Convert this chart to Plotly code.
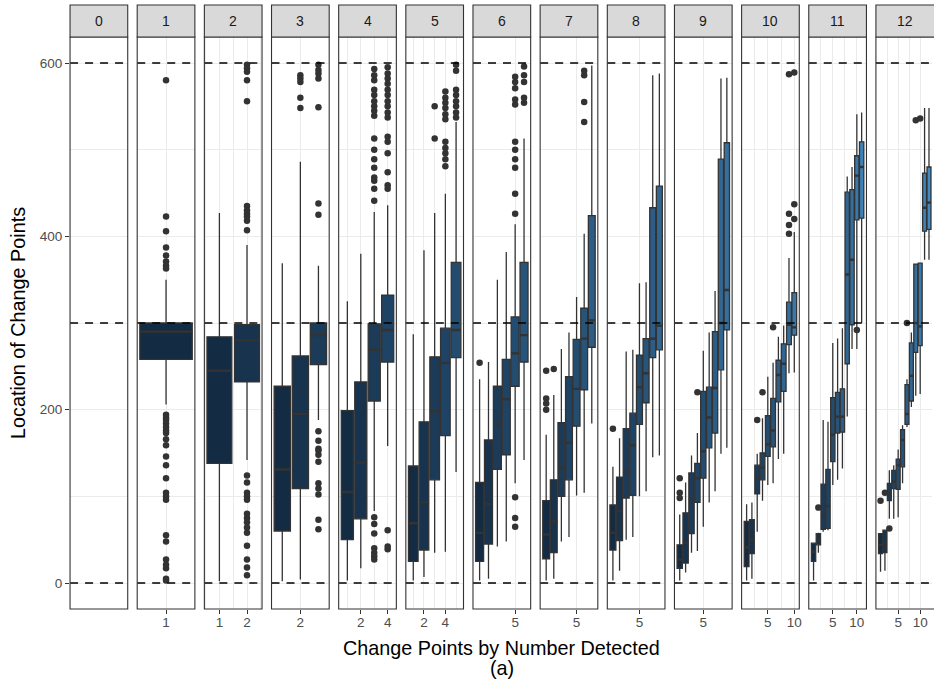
import plotly.graph_objects as go

W, H = 934, 688

# ---------------- data ----------------
# facet = number of change points detected (0..12); inside facet k, boxes j = 1..k
FACETS = list(range(13))

LOW = [
    [206],
    [2, 142],
    [2, 4, 188],
    [3, 17, 83, 158],
    [3, 7, 35, 36, 128],
    [3, 5, 42, 48, 115, 142],
    [3, 5, 48, 53, 101, 104, 184],
    [3, 14, 50, 53, 100, 106, 145, 147],
    [3, 12, 35, 37, 65, 93, 106, 149, 156],
    [3, 5, 59, 95, 113, 115, 143, 149, 242, 243],
    [3, 35, 59, 61, 113, 119, 132, 192, 270, 270, 300],
    [13, 14, 74, 74, 76, 115, 180, 203, 216, 218, 373, 373],
]
Q1 = [
    [258],
    [138, 232],
    [60, 109, 252],
    [50, 74, 210, 255],
    [25, 38, 119, 170, 260],
    [25, 45, 131, 148, 227, 255],
    [28, 35, 100, 119, 181, 223, 272],
    [38, 49, 98, 101, 183, 208, 260, 269],
    [17, 23, 57, 93, 121, 156, 173, 246, 292],
    [19, 34, 103, 119, 146, 157, 209, 221, 275, 286],
    [25, 44, 62, 63, 140, 173, 174, 253, 298, 419, 421],
    [34, 35, 95, 109, 108, 134, 183, 210, 266, 274, 406, 408],
]
MED = [
    [290],
    [245, 280],
    [131, 195, 286],
    [105, 139, 269, 292],
    [69, 93, 198, 254, 292],
    [58, 91, 183, 212, 265, 286],
    [56, 71, 133, 162, 224, 282, 303],
    [58, 83, 128, 159, 226, 242, 282, 297],
    [27, 46, 96, 121, 152, 191, 225, 300, 338],
    [41, 50, 121, 133, 160, 176, 240, 253, 298, 295],
    [36, 50, 78, 89, 171, 192, 192, 356, 373, 470, 480],
    [44, 45, 102, 117, 136, 165, 195, 239, 300, 296, 433, 439],
]
Q3 = [
    [300],
    [284, 298],
    [227, 262, 300],
    [199, 232, 299, 332],
    [135, 186, 261, 294, 370],
    [116, 165, 227, 258, 307, 370],
    [95, 119, 185, 238, 281, 317, 424],
    [90, 122, 178, 196, 263, 282, 433, 458],
    [44, 81, 127, 138, 221, 226, 290, 489, 508],
    [71, 73, 136, 150, 193, 213, 257, 276, 324, 335],
    [46, 57, 114, 131, 214, 220, 224, 451, 454, 493, 509],
    [57, 61, 115, 130, 143, 177, 229, 277, 368, 369, 473, 480],
]
HIGH = [
    [350],
    [427, 390],
    [369, 486, 366],
    [325, 380, 428, 436],
    [287, 384, 427, 449, 532],
    [235, 255, 350, 382, 414, 513],
    [171, 217, 270, 289, 330, 403, 597],
    [134, 167, 267, 269, 346, 347, 586, 588],
    [79, 116, 147, 173, 268, 289, 337, 582, 583],
    [91, 93, 149, 190, 238, 254, 284, 297, 375, 405],
    [46, 58, 188, 186, 277, 282, 294, 469, 480, 541, 543],
    [57, 61, 130, 136, 154, 182, 235, 289, 368, 369, 548, 548],
]
OUTLIERS = [
    [[580, 423, 406, 387, 378, 371, 366, 363, 194, 191, 188, 184, 180, 176, 173, 166, 159,
      146, 136, 121, 104, 100, 96, 55, 48, 27, 21, 17, 5, 3]],
    [[], [598, 594, 590, 580, 556, 435, 430, 426, 423, 418, 407,
          124, 116, 104, 100, 96, 80, 75, 70, 64, 58, 43, 27, 18, 9]],
    [[], [586, 582, 578, 560, 548],
     [598, 592, 588, 582, 549, 438, 425, 175, 164, 155, 153, 148, 140, 115, 109, 102, 73, 62]],
    [[], [],
     [593, 586, 580, 569, 563, 556, 550, 545, 539, 513, 500, 489, 479, 468, 464, 455, 441,
      76, 68, 57, 40, 35, 31, 27],
     [595, 588, 582, 576, 569, 563, 556, 550, 543, 537, 515, 509, 496, 474, 459, 455, 61, 42, 39]],
    [[], [], [550, 513],
     [567, 560, 554, 548, 541, 535, 509, 502, 496, 489, 481],
     [598, 591, 569, 563, 556, 550, 543, 537]],
    [[254], [], [], [],
     [584, 578, 571, 558, 552, 509, 500, 489, 479, 449, 426, 99, 75, 65],
     [596, 586, 578, 560, 554]],
    [[245, 213, 207, 200], [247], [], [], [], [591, 586, 555, 532], []],
    [[178], [], [], [], [], [], [], []],
    [[121, 104, 98], [], [], [220], [], [], [], [], []],
    [[], [], [188], [220], [], [295], [], [], [587, 426, 413, 403], [589, 437, 420]],
    [[], [87], [], [], [], [], [], [], [], [292], []],
    [[95], [104], [63], [], [], [], [300], [], [534], [536], [], []],
]

X_BREAKS = [[], [1], [1, 2], [2], [2, 4], [2, 4], [5], [5], [5], [5], [5, 10], [5, 10], [5, 10]]
X_MINOR = [[], [], [0.5, 1.5, 2.5], [], [1, 3], [1, 3, 5], [], [], [], [], [2.5, 7.5], [2.5, 7.5],
           [2.5, 7.5, 12.5]]
Y_BREAKS = [0, 200, 400, 600]
Y_MINOR = [100, 300, 500]
REF_LINES = [0, 300, 600]
Y_RANGE = [-30, 630]

# ---------------- colour scale (ggplot default gradient, Lab interpolation) ----------------
LOW_COL, HIGH_COL = "#132B43", "#56B1F7"
N_COLOURS = 16


def _hex(h):
    h = h.lstrip('#')
    return [int(h[i:i + 2], 16) / 255 for i in (0, 2, 4)]


def _to_lab(rgb):
    lin = [c / 12.92 if c <= 0.04045 else ((c + 0.055) / 1.055) ** 2.4 for c in rgb]
    r, g, b = lin
    X = (0.4124 * r + 0.3576 * g + 0.1805 * b) / 0.95047
    Y = (0.2126 * r + 0.7152 * g + 0.0722 * b)
    Z = (0.0193 * r + 0.1192 * g + 0.9505 * b) / 1.08883
    d = 6 / 29
    f = lambda t: t ** (1 / 3) if t > d ** 3 else t / (3 * d * d) + 4 / 29
    fx, fy, fz = f(X), f(Y), f(Z)
    return [116 * fy - 16, 500 * (fx - fy), 200 * (fy - fz)]


def _from_lab(lab):
    L, a, b = lab
    fy = (L + 16) / 116
    fx = fy + a / 500
    fz = fy - b / 200
    d = 6 / 29
    finv = lambda t: t ** 3 if t > d else 3 * d * d * (t - 4 / 29)
    X, Y, Z = finv(fx) * 0.95047, finv(fy), finv(fz) * 1.08883
    r = 3.2406 * X - 1.5372 * Y - 0.4986 * Z
    g = -0.9689 * X + 1.8758 * Y + 0.0415 * Z
    bb = 0.0557 * X - 0.2040 * Y + 1.0570 * Z
    out = []
    for c in (r, g, bb):
        c = max(0.0, c)
        c = 12.92 * c if c <= 0.0031308 else 1.055 * c ** (1 / 2.4) - 0.055
        out.append(max(0, min(255, round(c * 255))))
    return "rgb(%d,%d,%d)" % tuple(out)


LAB_LO, LAB_HI = _to_lab(_hex(LOW_COL)), _to_lab(_hex(HIGH_COL))


def fill_for(j):
    t = (j - 1) / (N_COLOURS - 1)
    return _from_lab([lo + t * (hi - lo) for lo, hi in zip(LAB_LO, LAB_HI)])


# ---------------- layout geometry (pixels) ----------------
PANEL_LEFT0, PANEL_STEP, PANEL_W = 70.2, 67.3, 57.8
PANEL_TOP, PANEL_BOTTOM = 37.0, 609.0
STRIP_TOP = 5.0
FONT = "Liberation Sans, Arial, Helvetica, sans-serif"
INK = "#333333"
TICK_SIZE, STRIP_SIZE, TITLE_SIZE = 13.5, 14, 19.8

fig = go.Figure()
layout = dict(
    width=W, height=H, margin=dict(l=0, r=0, t=0, b=0),
    paper_bgcolor="white", plot_bgcolor="white", showlegend=False,
    boxmode="overlay", font=dict(family=FONT, color="#4D4D4D", size=TICK_SIZE),
)
shapes, annotations = [], []

for i in FACETS:
    k = i
    xname = "xaxis" if i == 0 else f"xaxis{i + 1}"
    yname = "yaxis" if i == 0 else f"yaxis{i + 1}"
    xref = "x" if i == 0 else f"x{i + 1}"
    yref = "y" if i == 0 else f"y{i + 1}"

    left = PANEL_LEFT0 + i * PANEL_STEP
    right = left + PANEL_W
    if k == 0:
        rng = [0, 1]
    else:
        lo, hi = 0.55, k + 0.45
        pad = 0.05 * (hi - lo)
        rng = [lo - pad, hi + pad]
    clip_right = min(right, W)
    if clip_right < right:
        rng = [rng[0], rng[0] + (rng[1] - rng[0]) * (clip_right - left) / (right - left)]

    layout[xname] = dict(
        domain=[left / W, clip_right / W], range=rng, type="linear", anchor=yref,
        tickmode="array", tickvals=X_BREAKS[i], ticktext=[str(v) for v in X_BREAKS[i]],
        showgrid=True, gridcolor="#EBEBEB", gridwidth=1.1, zeroline=False,
        ticks="outside" if X_BREAKS[i] else "", ticklen=4, tickwidth=1, tickcolor=INK,
        ticklabelstandoff=-3,
        tickfont=dict(size=TICK_SIZE, color="#4D4D4D", family=FONT),
        minor=dict(tickvals=X_MINOR[i], showgrid=True, gridcolor="#EBEBEB", gridwidth=0.6,
                   ticks=""),
        showline=False, fixedrange=True,
    )
    layout[yname] = dict(
        domain=[1 - PANEL_BOTTOM / H, 1 - PANEL_TOP / H], range=Y_RANGE, anchor=xref,
        tickmode="array", tickvals=Y_BREAKS, ticktext=[str(v) for v in Y_BREAKS],
        showticklabels=(i == 0), ticks="outside" if i == 0 else "", ticklen=4, tickwidth=1,
        tickcolor=INK, tickfont=dict(size=TICK_SIZE, color="#4D4D4D", family=FONT),
        showgrid=True, gridcolor="#EBEBEB", gridwidth=1.1, zeroline=False,
        minor=dict(tickvals=Y_MINOR, showgrid=True, gridcolor="#EBEBEB", gridwidth=0.6, ticks=""),
        showline=False, fixedrange=True,
    )

    if k > 0:
        for j in range(1, k + 1):
            fig.add_trace(go.Box(
                x=[j], q1=[Q1[k - 1][j - 1]], median=[MED[k - 1][j - 1]], q3=[Q3[k - 1][j - 1]],
                lowerfence=[LOW[k - 1][j - 1]], upperfence=[HIGH[k - 1][j - 1]],
                width=0.9, whiskerwidth=0, boxpoints=False,
                fillcolor=fill_for(j), line=dict(color=INK, width=1.3),
                xaxis=xref, yaxis=yref, hoverinfo="skip",
            ))
        # thicker median bars (ggplot fatten = 2)
        mx, my = [], []
        for j in range(1, k + 1):
            m = MED[k - 1][j - 1]
            mx += [j - 0.45, j + 0.45, None]
            my += [m, m, None]
        fig.add_trace(go.Scatter(x=mx, y=my, mode="lines", line=dict(color=INK, width=2.4),
                                 xaxis=xref, yaxis=yref, hoverinfo="skip"))
        ox, oy = [], []
        for j in range(1, k + 1):
            for v in OUTLIERS[k - 1][j - 1]:
                ox.append(j)
                oy.append(v)
        if ox:
            fig.add_trace(go.Scatter(x=ox, y=oy, mode="markers",
                                     marker=dict(color=INK, size=6.5, line=dict(width=0)),
                                     xaxis=xref, yaxis=yref, hoverinfo="skip"))

    # reference dashed lines
    for v in REF_LINES:
        shapes.append(dict(type="line", xref=f"{xref} domain", x0=0, x1=1, yref=yref, y0=v, y1=v,
                           line=dict(color="black", width=1.4, dash="8px,7px"), layer="above"))
    x1d = 1.0 if clip_right >= right else 1.05
    # panel border
    shapes.append(dict(type="rect", xref=f"{xref} domain", x0=0, x1=x1d, yref=f"{yref} domain",
                       y0=0, y1=1, line=dict(color=INK, width=1.1), fillcolor="rgba(0,0,0,0)",
                       layer="above"))
    # strip
    shapes.append(dict(type="rect", xref=f"{xref} domain", x0=0, x1=x1d, yref="paper",
                       y0=1 - PANEL_TOP / H, y1=1 - STRIP_TOP / H,
                       line=dict(color=INK, width=1.1), fillcolor="#D9D9D9", layer="above"))
    annotations.append(dict(text=str(k), xref="paper", x=(left + PANEL_W / 2) / W, yref="paper",
                            y=1 - (PANEL_TOP + STRIP_TOP) / 2 / H, showarrow=False,
                            xanchor="center", yanchor="middle",
                            font=dict(size=STRIP_SIZE, color="#1A1A1A", family=FONT)))

annotations.append(dict(text="Location of Change Points", textangle=-90, xref="paper", x=18 / W,
                        yref="paper", y=1 - 323 / H, showarrow=False, xanchor="center",
                        yanchor="middle", font=dict(size=TITLE_SIZE, color="black", family=FONT)))
annotations.append(dict(text="Change Points by Number Detected", xref="paper", x=503 / W,
                        yref="paper", y=1 - 648 / H, showarrow=False, xanchor="center",
                        yanchor="middle", font=dict(size=TITLE_SIZE, color="black", family=FONT)))
annotations.append(dict(text="(a)", xref="paper", x=503 / W, yref="paper", y=1 - 668 / H,
                        showarrow=False, xanchor="center", yanchor="middle",
                        font=dict(size=TITLE_SIZE, color="black", family=FONT)))

layout["shapes"] = shapes
layout["annotations"] = annotations
fig.update_layout(**layout)
fig.write_html("out.html", config={"displayModeBar": False},
               post_script="document.body.style.margin='0';document.body.style.padding='0';")
